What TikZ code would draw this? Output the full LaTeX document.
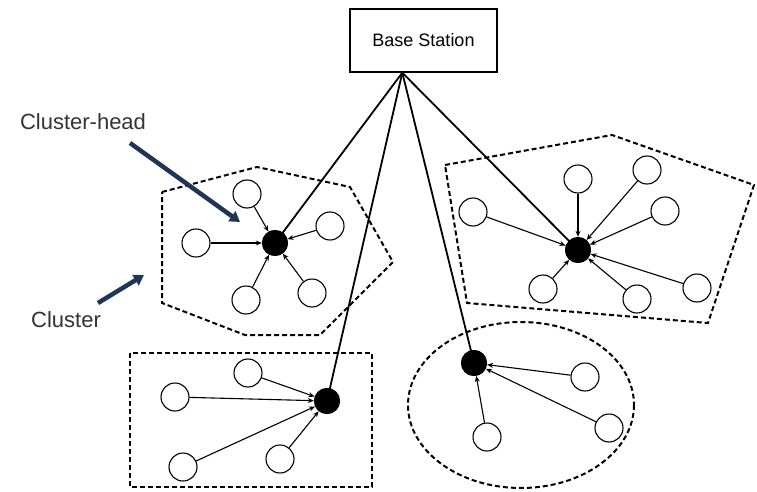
\documentclass[tikz,border=0pt]{standalone}
\usepackage{fontspec}
\setmainfont{Liberation Sans}
\usetikzlibrary{arrows.meta,calc}
\definecolor{navy}{HTML}{1F3556}
\definecolor{txt}{HTML}{333333}
\begin{document}
\begin{tikzpicture}[x=1pt,y=-1pt,
  mem/.style={circle,draw,line width=1.1pt,minimum size=28pt,inner sep=0pt,fill=white},
  head/.style={circle,fill=black,minimum size=26pt,inner sep=0pt},
  link/.style={line width=1.1pt,-{Stealth[length=6pt,width=5pt]}},
  bsl/.style={line width=1.8pt},
  clus/.style={line width=2pt,dash pattern=on 5pt off 3pt},
  callout/.style={navy,line width=4.5pt,-{Triangle[length=10pt,width=12pt]}},
  lab/.style={txt,font=\fontsize{22}{26}\selectfont,inner sep=0pt}
]
\useasboundingbox (0,0) rectangle (757,492);

% cluster outlines
\draw[clus] (162,192) -- (257,167) -- (350,187) -- (393,262) -- (320,335) -- (245,335) -- (162,303) -- cycle;
\draw[clus] (445,165) -- (612,135) -- (754,185) -- (708,323) -- (467,303) -- cycle;
\draw[clus] (130,353) rectangle (372,487);
\draw[clus] (521,405) ellipse [x radius=113, y radius=83];

% base station
\node[draw,line width=1.4pt,minimum width=147pt,minimum height=63pt,inner sep=0pt,font=\fontsize{18}{22}\selectfont] (bs) at (423.5,40.5) {Base Station};
\coordinate (bsp) at ($(bs.south west)+(53,0)$);

% heads
\node[head] (h1) at (275,243) {};
\node[head] (h2) at (578,250) {};
\node[head] (h3) at (327,401) {};
\node[head] (h4) at (474,363) {};

% base station links
\draw[bsl] (bsp) -- (h1.center);
\draw[bsl] (bsp) -- (h3.center);
\draw[bsl] (bsp) -- (h4.center);
\draw[bsl] (bsp) -- (h2.center);
\node[head] at (h1) {};
\node[head] at (h2) {};
\node[head] at (h3) {};
\node[head] at (h4) {};

% cluster 1 members
\node[mem] (a1) at (247,194) {};
\node[mem] (a2) at (330,226) {};
\node[mem] (a3) at (196,243) {};
\node[mem] (a4) at (246,300) {};
\node[mem] (a5) at (312,293) {};
\foreach \m in {a1,a2,a3,a4,a5} \draw[link] (\m) -- (h1);

% cluster 2 members
\node[mem] (b1) at (473,212) {};
\node[mem] (b2) at (578,179) {};
\node[mem] (b3) at (647,170) {};
\node[mem] (b4) at (665,211) {};
\node[mem] (b5) at (543,289) {};
\node[mem] (b6) at (637,299) {};
\node[mem] (b7) at (697,288) {};
\foreach \m in {b1,b2,b3,b4,b5,b6,b7} \draw[link] (\m) -- (h2);

% cluster 3 members
\node[mem] (c1) at (248,373) {};
\node[mem] (c2) at (175,397) {};
\node[mem] (c3) at (183,467) {};
\node[mem] (c4) at (280,459) {};
\foreach \m in {c1,c2,c3,c4} \draw[link] (\m) -- (h3);

% cluster 4 members
\node[mem] (d1) at (585,377) {};
\node[mem] (d2) at (609,428) {};
\node[mem] (d3) at (487,437) {};
\foreach \m in {d1,d2,d3} \draw[link] (\m) -- (h4);

% labels and callouts
\node[lab] (lch) at (83,122) {Cluster-head};
\node[lab] (lcl) at (66,320) {Cluster};
\coordinate (ch1) at (130,143);
\coordinate (ch2) at (240,222);
\coordinate (cl1) at (98,303);
\coordinate (cl2) at (144,275);
\draw[callout] (ch1) -- (ch2);
\draw[callout] (cl1) -- (cl2);
\end{tikzpicture}
\end{document}
